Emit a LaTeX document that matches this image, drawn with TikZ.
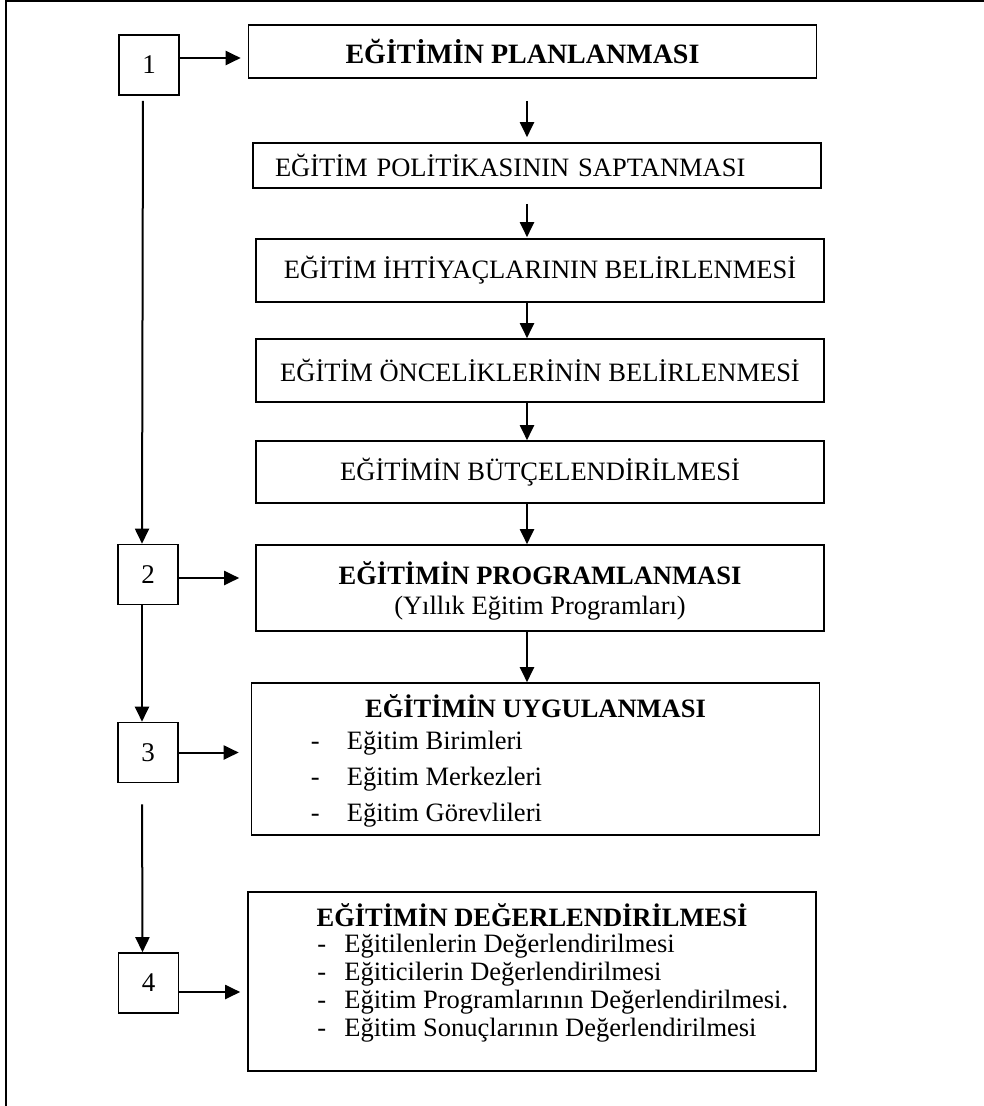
\documentclass[tikz,border=0pt]{standalone}
\usepackage{fontspec}
\setmainfont{Liberation Serif}
\usepackage{tikz}
\usetikzlibrary{arrows.meta, positioning}
\newcommand{\listDash}[1][36pt]{\makebox[#1][l]{-}}

\begin{document}
\begin{tikzpicture}[x=1pt, y=1pt,
        stage/.style={rectangle, draw=black, line width=1.6pt, minimum width=568pt, inner sep=0pt, font=\fontsize{26.5pt}{30pt}\selectfont, align=center},
        numBox/.style={rectangle, draw=black, line width=1.6pt, minimum width=60pt, minimum height=60pt, inner sep=0pt, font=\fontsize{27pt}{30pt}\selectfont},
        stageTitle/.style={anchor=base, inner sep=0pt, font=\fontsize{26.5pt}{30pt}\selectfont\bfseries},
        listItem/.style={anchor=base west, inner sep=0pt, font=\fontsize{26.5pt}{30pt}\selectfont},
        arrow/.style={-{Triangle[length=15pt, width=14pt]}, line width=2pt}]
        \useasboundingbox (0,0) rectangle (984,-1106);

        % Frame (top and left edge only)
        \draw[line width=2pt] (6,-1106) -- (6,-1) -- (984,-1);

        % Stage column
        \node[stage, minimum height=53pt] (plan) at (532.5,-51.5) {};
        \node[stage, minimum height=45pt, text width=524pt, align=left, below of=plan, node distance=114pt, xshift=4.5pt] (policy) {EĞİTİM POLİTİKASININ SAPTANMASI};
        \node[stage, minimum height=63pt, below of=policy, node distance=105pt, xshift=3pt] (needs) {EĞİTİM İHTİYAÇLARININ BELİRLENMESİ};
        \node[stage, minimum height=63pt, below of=needs, node distance=100pt] (priority) {EĞİTİM ÖNCELİKLERİNİN BELİRLENMESİ};
        \node[stage, minimum height=62pt, below of=priority, node distance=101.5pt] (budget) {EĞİTİMİN BÜTÇELENDİRİLMESİ};
        \node[stage, minimum height=86pt, below of=budget, node distance=116pt] (program) {};
        \node[stage, minimum height=152pt, below of=program, node distance=171pt, xshift=-4.5pt] (apply) {};
        \node[stage, minimum height=179pt, below of=apply, node distance=222.5pt, xshift=-3.5pt] (review) {};

        % Planning box text
        \node[stageTitle, font=\fontsize{28pt}{32pt}\selectfont\bfseries] (planTitle) at ([shift={(-10pt,-12pt)}]plan.center) {EĞİTİMİN PLANLANMASI};

        % Programme box text
        \node[stageTitle] (programTitle) at ([yshift=-40pt]program.north) {EĞİTİMİN PROGRAMLANMASI};
        \node[listItem, anchor=base] (programSub) at ([yshift=-70pt]program.north) {(Yıllık Eğitim Programları)};

        % Application box text
        \node[stageTitle] (applyTitle) at ([yshift=-35pt]apply.north) {EĞİTİMİN UYGULANMASI};
        \node[listItem] (applyA) at ([shift={(60pt,-67pt)}]apply.north west) {\listDash Eğitim Birimleri};
        \node[listItem] (applyB) at ([shift={(60pt,-103pt)}]apply.north west) {\listDash Eğitim Merkezleri};
        \node[listItem] (applyC) at ([shift={(60pt,-139pt)}]apply.north west) {\listDash Eğitim Görevlileri};

        % Review box text
        \node[stageTitle] (reviewTitle) at ([yshift=-35pt]review.north) {EĞİTİMİN DEĞERLENDİRİLMESİ};
        \node[listItem] (reviewA) at ([shift={(70pt,-61pt)}]review.north west) {\listDash[27pt]Eğitilenlerin Değerlendirilmesi};
        \node[listItem] (reviewB) at ([shift={(70pt,-89pt)}]review.north west) {\listDash[27pt]Eğiticilerin Değerlendirilmesi};
        \node[listItem] (reviewC) at ([shift={(70pt,-117pt)}]review.north west) {\listDash[27pt]Eğitim Programlarının Değerlendirilmesi.};
        \node[listItem] (reviewD) at ([shift={(70pt,-145pt)}]review.north west) {\listDash[27pt]Eğitim Sonuçlarının Değerlendirilmesi};

        % Step numbers
        \node[numBox, left of=plan, node distance=383.5pt, yshift=-13.5pt] (one) {1};
        \node[numBox, left of=program, node distance=392pt, yshift=13.5pt] (two) {2};
        \node[numBox, left of=apply, node distance=387.5pt, yshift=6.5pt] (three) {3};
        \node[numBox, left of=review, node distance=383.5pt, yshift=-1.5pt] (four) {4};

        % Arrows
        \coordinate (spine) at (527,0);
        \draw[arrow, shorten <=22pt, shorten >=5pt] (plan.south -| spine) -- (policy.north -| spine);
        \draw[arrow, shorten <=15pt, shorten >=1pt] (policy.south -| spine) -- (needs.north -| spine);
        \draw[arrow] (needs.south -| spine) -- (priority.north -| spine);
        \draw[arrow] (priority.south -| spine) -- (budget.north -| spine);
        \draw[arrow] (budget.south -| spine) -- (program.north -| spine);
        \draw[arrow] (program.south -| spine) -- (apply.north -| spine);

        \draw[arrow, shorten <=5pt] ([xshift=-6pt]one.south) -- ([xshift=-6pt]two.north);
        \draw[arrow] ([xshift=-6pt]two.south) -- ([xshift=-6pt]three.north);
        \draw[arrow, shorten <=21pt] ([xshift=-6pt]three.south) -- ([xshift=-6pt]four.north);

        \draw[arrow, shorten >=7pt] ([yshift=7pt]one.east) -- ([yshift=7pt]one.east -| plan.west);
        \draw[arrow, shorten >=16pt] ([yshift=-3.5pt]two.east) -- ([yshift=-3.5pt]two.east -| program.west);
        \draw[arrow, shorten >=12pt] (three.east) -- (three.east -| apply.west);
        \draw[arrow, shorten >=7pt] ([yshift=-9pt]four.east) -- ([yshift=-9pt]four.east -| review.west);
    \end{tikzpicture}
\end{document}
